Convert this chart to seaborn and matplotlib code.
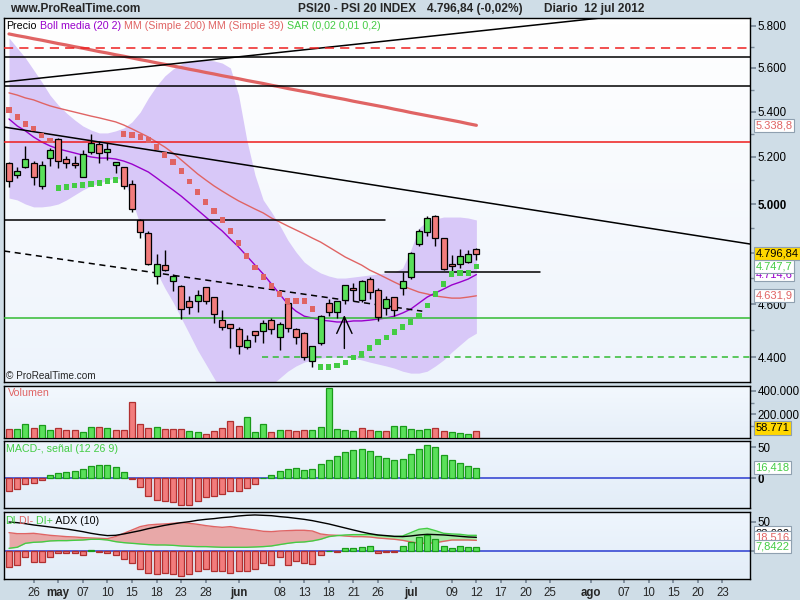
import matplotlib
matplotlib.use("Agg")
import matplotlib.pyplot as plt
from matplotlib import ticker
from matplotlib.colors import LinearSegmentedColormap
import seaborn as sns
import numpy as np
import pandas as pd

# ---- values (trading day 0 = 23 abr 2012 ... 57 = 12 jul 2012) ----
opens = [5174, 5124, 5158, 5174, 5077, 5194, 5280, 5190, 5174, 5115,
         5223, 5256, 5223, 5165, 5155, 5083, 4934, 4879, 4708, 4752,
         4688, 4669, 4611, 4611, 4665, 4626, 4538, 4524, 4504, 4437,
         4497, 4499, 4538, 4475, 4603, 4504, 4489, 4386, 4452, 4603,
         4569, 4614, 4661, 4614, 4696, 4653, 4584, 4626, 4662, 4706,
         4835, 4883, 4950, 4859, 4756, 4757, 4763, 4815]
highs = [5176, 5155, 5248, 5184, 5181, 5239, 5283, 5203, 5204, 5230,
         5299, 5270, 5259, 5179, 5157, 5101, 4937, 4890, 4795, 4812,
         4717, 4675, 4632, 4654, 4667, 4628, 4577, 4526, 4513, 4483,
         4499, 4539, 4546, 4531, 4618, 4508, 4494, 4443, 4558, 4618,
         4613, 4674, 4680, 4693, 4706, 4661, 4631, 4628, 4723, 4805,
         4896, 4950, 4956, 4861, 4792, 4815, 4812, 4819]
lows = [5071, 5111, 5151, 5080, 5064, 5162, 5154, 5154, 5154, 5113,
        5214, 5175, 5185, 5130, 5062, 4966, 4859, 4752, 4676, 4730,
        4651, 4542, 4561, 4571, 4599, 4529, 4503, 4436, 4411, 4431,
        4457, 4455, 4487, 4429, 4493, 4448, 4392, 4364, 4445, 4555,
        4546, 4599, 4611, 4609, 4618, 4534, 4558, 4553, 4636, 4698,
        4829, 4868, 4829, 4733, 4726, 4739, 4760, 4772]
closes = [5097, 5138, 5190, 5112, 5164, 5229, 5181, 5175, 5165, 5211,
          5259, 5216, 5234, 5177, 5074, 4978, 4883, 4755, 4758, 4734,
          4710, 4580, 4590, 4636, 4611, 4562, 4512, 4508, 4444, 4463,
          4484, 4529, 4504, 4523, 4508, 4474, 4402, 4441, 4556, 4569,
          4611, 4672, 4653, 4688, 4645, 4550, 4621, 4576, 4691, 4799,
          4887, 4941, 4859, 4735, 4748, 4790, 4797.8, 4796.84]

boll_upper = [5742, 5694, 5647, 5591, 5535, 5475, 5430, 5394, 5363, 5336,
              5318, 5305, 5305, 5314, 5327, 5354, 5398, 5462, 5517, 5563,
              5595, 5619, 5633, 5637, 5637, 5633, 5623, 5600, 5475, 5274,
              5122, 5017, 4967, 4913, 4852, 4804, 4764, 4740, 4721, 4709,
              4701, 4701, 4705, 4709, 4713, 4717, 4721, 4725, 4740, 4812,
              4901, 4930, 4938, 4946, 4946, 4946, 4942, 4934]
boll_lower = [5025, 5017, 5000, 4988, 4988, 4992, 5000, 5017, 5038, 5059,
              5076, 5088, 5101, 5110, 5101, 5017, 4913, 4804, 4725, 4662,
              4608, 4547, 4487, 4427, 4376, 4325, 4275, 4247, 4229, 4229,
              4247, 4275, 4300, 4325, 4350, 4369, 4383, 4391, 4398, 4401,
              4401, 4401, 4398, 4391, 4383, 4376, 4369, 4361, 4350, 4343,
              4343, 4350, 4369, 4391, 4420, 4446, 4472, 4490]
boll_mid = [5367, 5336, 5314, 5287, 5265, 5248, 5235, 5226, 5217, 5208,
            5200, 5195, 5195, 5191, 5182, 5169, 5152, 5135, 5110, 5084,
            5059, 5033, 5004, 4975, 4946, 4917, 4889, 4856, 4824, 4788,
            4752, 4717, 4678, 4639, 4600, 4573, 4554, 4547, 4539, 4536,
            4532, 4532, 4536, 4536, 4539, 4543, 4547, 4554, 4566, 4581,
            4604, 4627, 4643, 4658, 4674, 4685, 4697, 4714.6]
ma200 = [5761, 5753, 5746, 5738, 5731, 5723, 5715, 5708, 5700, 5693,
         5685, 5677, 5670, 5662, 5655, 5647, 5639, 5632, 5624, 5617,
         5609, 5602, 5594, 5587, 5579, 5572, 5564, 5557, 5550, 5542,
         5535, 5528, 5520, 5513, 5505, 5498, 5491, 5484, 5476, 5469,
         5462, 5455, 5447, 5440, 5433, 5426, 5419, 5411, 5404, 5396,
         5389, 5382, 5375, 5368, 5361, 5354, 5346, 5338.8]
ma39 = [5485, 5475, 5462, 5453, 5439, 5426, 5416, 5407, 5398, 5389,
        5380, 5372, 5363, 5354, 5340, 5323, 5305, 5287, 5265, 5243,
        5217, 5187, 5157, 5127, 5101, 5076, 5054, 5033, 5013, 4996,
        4979, 4963, 4942, 4926, 4909, 4893, 4877, 4860, 4844, 4824,
        4804, 4784, 4768, 4752, 4732, 4717, 4701, 4685, 4670, 4658,
        4646, 4639, 4631, 4627, 4623, 4623, 4627, 4631.9]
sar = [5407, 5376, 5345, 5323, 5292, 5270, 5067, 5071, 5076, 5080,
       5084, 5088, 5097, 5101, 5300, 5296, 5287, 5274, 5243, 5208,
       5178, 5139, 5093, 5050, 5008, 4971, 4934, 4889, 4840, 4788,
       4744, 4705, 4670, 4639, 4612, 4612, 4612, 4581, 4365, 4365,
       4372, 4383, 4401, 4413, 4435, 4457, 4475, 4494, 4513, 4532,
       4558, 4596, 4639, 4678, 4717, 4721, 4721, 4747.7]
sar_long = [0, 0, 0, 0, 0, 0, 1, 1, 1, 1, 1, 1, 1, 1, 0, 0, 0, 0, 0, 0,
            0, 0, 0, 0, 0, 0, 0, 0, 0, 0, 0, 0, 0, 0, 0, 0, 0, 0, 1, 1,
            1, 1, 1, 1, 1, 1, 1, 1, 1, 1, 1, 1, 1, 1, 1, 1, 1, 1]

volumes = [77000, 77000, 119000, 85000, 111000, 68000, 85000, 68000, 68000, 51000,
           94000, 94000, 85000, 68000, 68000, 306000, 119000, 85000, 94000, 77000,
           77000, 77000, 60000, 51000, 34000, 60000, 85000, 145000, 102000, 179000,
           51000, 119000, 51000, 68000, 68000, 60000, 68000, 68000, 94000, 426000,
           77000, 68000, 60000, 85000, 68000, 60000, 60000, 102000, 102000, 77000,
           68000, 77000, 85000, 60000, 51000, 43000, 34000, 58771]
vol_up = [0, 1, 1, 0, 1, 1, 0, 0, 0, 1, 1, 0, 1, 0, 0, 0, 0, 0, 1, 0,
          0, 0, 1, 1, 0, 0, 0, 0, 0, 1, 1, 1, 0, 1, 0, 0, 0, 1, 1, 1,
          1, 1, 1, 0, 0, 1, 0, 1, 1, 1, 1, 1, 0, 0, 1, 1, 1, 0]

macd_hist = [-21.5, -17.7, -9.7, -8.6, -3.2, 4.8, 8.1, 9.7, 11.3, 14.5,
             19.4, 21.5, 21.0, 17.7, 9.7, -2.2, -14.5, -29.6, -36.0, -37.6,
             -39.2, -43.5, -43.5, -37.6, -31.2, -29.6, -25.8, -21.5, -21.5, -16.1,
             -9.7, 0.5, 4.8, 11.3, 14.5, 16.1, 12.9, 14.5, 22.6, 29.0,
             35.5, 41.9, 45.2, 46.8, 43.5, 35.5, 32.3, 29.0, 31.2, 38.7,
             46.8, 53.2, 50.0, 37.1, 29.0, 24.2, 19.4, 16.418]

di_hist = [-25.9, -23.6, -10.1, -17.5, -17.5, -10.1, -3.4, -3.4, -2.3, -6.8,
           2.3, -1.7, -2.3, -6.8, -13.5, -20.3, -29.3, -36.0, -38.8, -36.0,
           -38.8, -42.2, -38.8, -33.8, -29.3, -33.8, -33.8, -37.2, -33.8, -33.8,
           -30.4, -20.3, -23.6, -10.1, -23.6, -16.9, -20.3, -21.4, -6.8, 0.0,
           -1.7, 5.1, 5.1, 6.8, 9.0, -3.4, -1.7, -1.7, 9.0, 15.8,
           24.2, 27.6, 20.8, 9.0, 5.1, 9.0, 7.3, 7.8422]
di_minus = [31.5, 29.8, 29.8, 30.4, 28.7, 27.0, 25.9, 24.8, 24.2, 23.1,
            22.5, 22.0, 21.4, 24.8, 30.4, 36.0, 41.7, 44.5, 45.6, 46.2,
            47.3, 48.4, 47.3, 45.6, 43.4, 41.7, 40.5, 41.7, 39.4, 37.7,
            36.0, 33.8, 33.2, 34.3, 34.9, 35.5, 35.5, 34.3, 29.3, 27.6,
            27.0, 25.9, 24.8, 24.8, 24.2, 22.5, 21.4, 20.3, 18.6, 15.8,
            13.5, 13.5, 14.6, 16.9, 19.1, 19.1, 19.1, 18.516]
di_plus = [5.1, 6.8, 13.5, 15.2, 15.8, 17.5, 18.0, 18.0, 18.6, 19.1,
           20.3, 20.3, 19.1, 16.3, 14.6, 13.5, 12.4, 11.3, 10.7, 10.7,
           10.1, 9.0, 8.4, 7.9, 7.9, 7.3, 6.8, 6.8, 6.8, 6.8,
           7.3, 7.9, 9.0, 11.3, 13.5, 15.2, 15.8, 17.5, 20.3, 24.8,
           26.5, 27.6, 28.2, 28.2, 28.7, 27.0, 25.9, 24.8, 25.9, 31.5,
           37.2, 38.8, 34.9, 30.4, 29.3, 28.7, 27.0, 27.0]
adx = [49.5, 48.4, 46.7, 44.5, 42.8, 41.1, 39.4, 37.7, 35.5, 33.2,
       30.4, 28.2, 26.5, 27.0, 29.3, 32.1, 34.9, 38.3, 41.1, 43.9,
       46.2, 48.4, 50.1, 52.4, 54.0, 55.2, 56.9, 58.0, 59.7, 60.8,
       61.4, 60.8, 60.2, 58.6, 57.4, 55.7, 54.0, 51.8, 49.0, 46.2,
       42.8, 39.4, 36.0, 32.7, 29.8, 27.6, 26.5, 25.3, 24.8, 25.9,
       27.6, 28.7, 28.2, 27.6, 26.5, 25.3, 24.2, 23.6]

tick_pos = [3, 6, 9, 12, 15, 18, 21, 24, 28, 33, 36, 39, 42, 45, 49,
            54, 57, 60, 63, 66, 71, 75, 78, 81, 84, 87]
tick_labels = ['26', 'may', '07', '10', '15', '18', '23', '28', 'jun', '08', '13',
               '18', '21', '26', 'jul', '09', '12', '17', '20', '25', 'ago',
               '07', '10', '15', '20', '23']
months = ['may', 'jun', 'jul', 'ago']

# lines drawn by hand on the price chart: (x0, price0, x1, price1, colour, style)
trend_lines = [
    (-0.6, 5535, 74.0, 5846, 'black', '-'),
    (-0.6, 5695, 90.4, 5695, '#ee2020', (0, (6, 4))),
    (-0.6, 5650, 90.4, 5650, 'black', '-'),
    (-0.6, 5518, 90.4, 5518, 'black', '-'),
    (-0.6, 5264, 90.4, 5264, '#ee1c1c', '-'),
    (-0.6, 5331, 90.4, 4836, 'black', '-'),
    (-0.6, 4934, 45.85, 4934, 'black', '-'),
    (45.85, 4725, 64.8, 4725, 'black', '-'),
    (-0.6, 4547, 90.4, 4547, '#33bb33', '-'),
    (30.9, 4400, 90.4, 4400, '#33bb33', (0, (4, 3))),
    (-0.6, 4808, 50.4, 4573, 'black', (0, (4, 3))),
]
arrow_x, arrow_tip, arrow_tail = 40.9, 4558, 4433

# ---- style ----
sns.set_theme(style="white")
plt.rcParams['font.family'] = ['Liberation Sans', 'DejaVu Sans']

BG = '#cfdde7'
C_UP = '#5ae05a'
C_DN = '#f27c7c'
E_UP = '#1a9a1a'
E_DN = '#b03030'
SALMON = '#e06464'
PURPLE = '#9900cc'
SGREEN = '#44cc44'
TICKC = '#7a8a99'
LABEL_SIZE = 7.7

X_MIN, X_MAX = -0.61, 90.37


def fmt_es(v, dec=0):
    s = f"{v:,.{dec}f}"
    return s.replace(",", "X").replace(".", ",").replace("X", ".")


fig = plt.figure(figsize=(8, 6), dpi=100)
fig.patch.set_facecolor(BG)


def panel(top, bottom, c_top, c_bottom):
    rect = [4 / 800, 1 - bottom / 600, 746 / 800, (bottom - top) / 600]
    bg = fig.add_axes(rect, zorder=0)
    grad = np.linspace(0, 1, 64).reshape(-1, 1)
    cmap = LinearSegmentedColormap.from_list('bg', [c_top, c_bottom])
    bg.imshow(grad, aspect='auto', cmap=cmap, extent=[0, 1, 0, 1])
    bg.set_axis_off()
    a = fig.add_axes(rect, zorder=1)
    a.set_facecolor('none')
    for sp in a.spines.values():
        sp.set_color('black')
        sp.set_linewidth(1)
    a.set_xlim(X_MIN, X_MAX)
    a.yaxis.tick_right()
    a.tick_params(axis='y', which='both', left=False, right=True, direction='out',
                  color=TICKC, labelsize=8.3, pad=1.5, labelcolor='black')
    a.tick_params(axis='y', which='major', length=4)
    a.tick_params(axis='y', which='minor', length=3)
    a.tick_params(axis='x', bottom=False, labelbottom=False)
    return a


ax = panel(18, 382, '#ffffff', '#eef4fc')
axv = panel(386, 438, '#f3f8fe', '#e6eff9')
axm = panel(441, 508, '#eef5fd', '#e3edf8')
axd = panel(512, 579, '#eef5fd', '#e3edf8')

idx = np.arange(len(closes))
df = pd.DataFrame({'idx': idx, 'open': opens, 'high': highs, 'low': lows, 'close': closes,
                   'upper': boll_upper, 'lower': boll_lower, 'mid': boll_mid,
                   'ma200': ma200, 'ma39': ma39, 'sar': sar, 'sar_long': sar_long,
                   'vol': volumes, 'vol_up': vol_up, 'macd': macd_hist,
                   'dih': di_hist, 'dim': di_minus, 'dip': di_plus, 'adx': adx})

# ---- price panel ----
ax.set_yscale('log')
ax.fill_between(df['idx'], df['lower'], df['upper'], color='#d8c8f8', lw=0, zorder=1)
sns.lineplot(data=df, x='idx', y='ma200', ax=ax, color=SALMON, lw=2.3, zorder=3)
sns.lineplot(data=df, x='idx', y='ma39', ax=ax, color=SALMON, lw=1, zorder=3)
sns.lineplot(data=df, x='idx', y='mid', ax=ax, color=PURPLE, lw=1, zorder=3)

for x0, p0, x1, p1, col, ls in trend_lines:
    ax.plot([x0, x1], [p0, p1], color=col, lw=1.1, ls=ls, zorder=3.5)

up = df['close'] >= df['open']
ax.vlines(df['idx'], df['low'], df['high'], color='black', lw=1, zorder=4)
body_lo = np.minimum(df['open'], df['close'])
body_h = np.maximum(np.abs(df['close'] - df['open']), 1.0)
ax.bar(df['idx'], body_h, bottom=body_lo, width=0.72,
       color=np.where(up, C_UP, C_DN), edgecolor='black', linewidth=0.9, zorder=5)

sar_df = df.assign(kind=np.where(df['sar_long'] == 1, 'long', 'short'))
sns.scatterplot(data=sar_df, x='idx', y='sar', hue='kind',
                palette={'long': SGREEN, 'short': SALMON}, marker='s', s=14,
                linewidth=0, legend=False, ax=ax, zorder=6)

ax.annotate('', xy=(arrow_x, arrow_tip), xytext=(arrow_x, arrow_tail),
            arrowprops=dict(arrowstyle='->,head_length=1.2,head_width=0.55',
                            color='black', lw=1, mutation_scale=10,
                            shrinkA=0, shrinkB=0), zorder=7)

ax.set_ylim(4311, 5838)
ax.set_xlim(X_MIN, X_MAX)
ax.yaxis.set_major_locator(ticker.FixedLocator([4400, 4600, 4800, 5000, 5200, 5400, 5600, 5800]))
ax.yaxis.set_minor_locator(ticker.FixedLocator([4500, 4700, 4900, 5100, 5300, 5500, 5700]))
# the 4.800 label sits under the yellow last-price box, so it is left blank
ax.yaxis.set_major_formatter(ticker.FuncFormatter(lambda v, p: '' if v == 4800 else fmt_es(v)))
ax.yaxis.set_minor_formatter(ticker.NullFormatter())
for lab in ax.get_yticklabels():
    if lab.get_text() == '5.000':
        lab.set_fontweight('bold')


def chain(a, x, y, parts, size):
    t = a.text(x, y, parts[0][0], color=parts[0][1], transform=a.transAxes,
               fontsize=size, va='center', ha='left', zorder=10)
    for s, c in parts[1:]:
        t = a.annotate(s, xy=(1, 0), xycoords=t, va='bottom', ha='left',
                       color=c, fontsize=size, zorder=10)


chain(ax, 0.003, 1 - 8 / 364, [('Precio', 'black'), (' Boll media (20 2)', PURPLE),
                               (' MM (Simple 200)', SALMON), (' MM (Simple 39)', SALMON),
                               (' SAR (0,02 0,01 0,2)', SGREEN)], LABEL_SIZE)
ax.text(0.003, 6 / 364, '\u00a9 ProRealTime.com', transform=ax.transAxes,
        fontsize=7.2, va='center', ha='left', zorder=10)


def value_box(a, y, text, fc, tc, dy=0):
    a.annotate(text, xy=(1, y), xycoords=('axes fraction', 'data'),
               xytext=(4, dy), textcoords='offset points', ha='left', va='center',
               fontsize=8, color=tc, zorder=20, annotation_clip=False,
               bbox=dict(boxstyle='square,pad=0.15', fc=fc, ec='#8fa0b0', lw=0.8))


value_box(ax, ma200[-1], fmt_es(ma200[-1], 1), 'white', SALMON)
value_box(ax, ma39[-1], fmt_es(ma39[-1], 1), 'white', SALMON)
value_box(ax, boll_mid[-1], fmt_es(boll_mid[-1], 1), 'white', PURPLE)
value_box(ax, sar[-1], fmt_es(sar[-1], 1), 'white', SGREEN)
value_box(ax, closes[-1], fmt_es(closes[-1], 2), '#ffd700', 'black')

# ---- volume ----
axv.bar(df['idx'], df['vol'], width=0.72,
        color=np.where(df['vol_up'] == 1, C_UP, C_DN),
        edgecolor=np.where(df['vol_up'] == 1, E_UP, E_DN), linewidth=0.9, zorder=3)
axv.set_ylim(0, 442553)
axv.set_xlim(X_MIN, X_MAX)
axv.yaxis.set_major_locator(ticker.FixedLocator([200000, 400000]))
axv.yaxis.set_minor_locator(ticker.FixedLocator([100000, 300000]))
axv.yaxis.set_major_formatter(ticker.FuncFormatter(lambda v, p: fmt_es(v)))
axv.text(0.005, 1 - 7 / 52, 'Volumen', transform=axv.transAxes, color=SALMON,
         fontsize=LABEL_SIZE, va='center', ha='left', zorder=10)
value_box(axv, volumes[-1] + 25000, fmt_es(volumes[-1]), '#ffd700', 'black')

# ---- MACD ----
axm.bar(df['idx'], df['macd'], width=0.72,
        color=np.where(df['macd'] >= 0, C_UP, C_DN),
        edgecolor=np.where(df['macd'] >= 0, E_UP, E_DN), linewidth=0.9, zorder=3)
axm.axhline(0, color='#2a3bd0', lw=1.1, zorder=2)
axm.set_ylim(-48.4, 59.7)
axm.set_xlim(X_MIN, X_MAX)
axm.yaxis.set_major_locator(ticker.FixedLocator([-50, 0, 50]))
axm.yaxis.set_major_formatter(ticker.FuncFormatter(lambda v, p: f"{v:.0f}"))
for lab in axm.get_yticklabels():
    if lab.get_text() == '0':
        lab.set_fontweight('bold')
axm.text(0.003, 1 - 8 / 67, 'MACD-, se\u00f1al (12 26 9)', transform=axm.transAxes,
         color=SGREEN, fontsize=LABEL_SIZE, va='center', ha='left', zorder=10)
value_box(axm, macd_hist[-1], fmt_es(macd_hist[-1], 3), 'white', SGREEN)

# ---- DI / ADX ----
dim = df['dim'].to_numpy()
dip = df['dip'].to_numpy()
axd.fill_between(df['idx'], dim, dip, where=dim >= dip, interpolate=True,
                 color='#e8a8a8', lw=0, zorder=1)
axd.fill_between(df['idx'], dim, dip, where=dim < dip, interpolate=True,
                 color='#a8eca8', lw=0, zorder=1)
sns.lineplot(data=df, x='idx', y='dim', ax=axd, color=SALMON, lw=1, zorder=2)
sns.lineplot(data=df, x='idx', y='dip', ax=axd, color=SGREEN, lw=1, zorder=2)
sns.lineplot(data=df, x='idx', y='adx', ax=axd, color='black', lw=1, zorder=2)
axd.bar(df['idx'], df['dih'], width=0.72,
        color=np.where(df['dih'] >= 0, C_UP, C_DN),
        edgecolor=np.where(df['dih'] >= 0, E_UP, E_DN), linewidth=0.9, zorder=3)
axd.axhline(0, color='#2a3bd0', lw=1.1, zorder=2.5)
axd.set_ylim(-46.8, 66.4)
axd.set_xlim(X_MIN, X_MAX)
axd.yaxis.set_major_locator(ticker.FixedLocator([0, 50]))
# the 0 label is covered by the value boxes in the original
axd.yaxis.set_major_formatter(ticker.FuncFormatter(lambda v, p: '' if v == 0 else f"{v:.0f}"))
chain(axd, 0.002, 1 - 9 / 67, [('DI', SGREEN), (' DI-', SALMON), (' DI+', SGREEN),
                               (' ADX (10)', 'black')], LABEL_SIZE)
value_box(axd, adx[-1], fmt_es(adx[-1], 3), 'white', 'black', dy=3)
value_box(axd, di_minus[-1], fmt_es(di_minus[-1], 3), 'white', SALMON, dy=2)
value_box(axd, di_hist[-1], fmt_es(di_hist[-1], 4), 'white', SGREEN)

axd.set_xticks(tick_pos)
axd.set_xticklabels(tick_labels)
axd.tick_params(axis='x', bottom=True, labelbottom=True, length=3, color=TICKC,
                labelsize=8.3, pad=3, direction='out')
for lab in axd.get_xticklabels():
    if lab.get_text() in months:
        lab.set_fontweight('bold')

for a in (ax, axv, axm, axd):
    a.set_xlabel('')
    a.set_ylabel('')

# ---- header ----
fig.text(10 / 800, 1 - 9 / 600, 'www.ProRealTime.com', fontsize=8.6, fontweight='bold',
         va='center', ha='left')
fig.text(298 / 800, 1 - 9 / 600, 'PSI20 - PSI 20 INDEX', fontsize=8.6, fontweight='bold',
         va='center', ha='left')
fig.text(427 / 800, 1 - 9 / 600, '4.796,84 (-0,02%)', fontsize=8.6, fontweight='bold',
         va='center', ha='left')
fig.text(544 / 800, 1 - 9 / 600, 'Diario  12 jul 2012', fontsize=8.6, fontweight='bold',
         va='center', ha='left')

fig.savefig('out.png', dpi=100, facecolor=BG)
